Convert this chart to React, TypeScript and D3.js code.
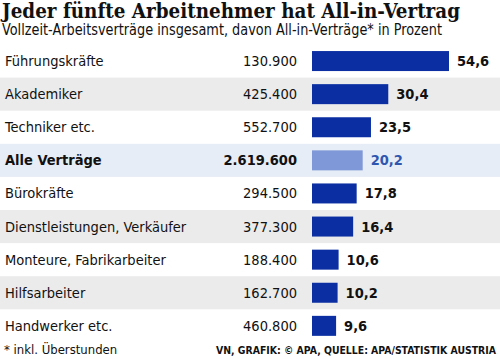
import React from "react";
import * as d3 from "d3";

const categories = [
  "Führungskräfte",
  "Akademiker",
  "Techniker etc.",
  "Alle Verträge",
  "Bürokräfte",
  "Dienstleistungen, Verkäufer",
  "Monteure, Fabrikarbeiter",
  "Hilfsarbeiter",
  "Handwerker etc.",
];
const totals = ["130.900", "425.400", "552.700", "2.619.600", "294.500", "377.300", "188.400", "162.700", "460.800"];
const percents = [54.6, 30.4, 23.5, 20.2, 17.8, 16.4, 10.6, 10.2, 9.6];
const highlightIndex = 3;

const W = 500;
const H = 359;
const font = "'DejaVu Sans Condensed', 'DejaVu Sans', sans-serif";

export default function App() {
  const y = d3.scaleBand<number>().domain(d3.range(categories.length)).range([44.5, 342.4]).paddingInner(0).paddingOuter(0);
  const x = d3.scaleLinear().domain([0, 54.6]).range([312, 449]);
  const bh = 20;
  const fmt = (v: number) => v.toFixed(1).replace(".", ",");

  return (
    <svg width={W} height={H} style={{ position: "absolute", left: 0, top: 0, background: "#fff" }}>
      <rect x={0} y={0} width={W} height={H} fill="#fff" />
      <text x={2} y={18} fontFamily="'DejaVu Serif Condensed', 'DejaVu Serif', serif" fontWeight="bold" fontSize={21} textLength={458} lengthAdjust="spacingAndGlyphs" fill="#111">
        Jeder fünfte Arbeitnehmer hat All-in-Vertrag
      </text>
      <text x={2} y={35} fontFamily={font} fontSize={15} textLength={440} lengthAdjust="spacingAndGlyphs" fill="#111">
        Vollzeit-Arbeitsverträge insgesamt, davon All-in-Verträge* in Prozent
      </text>
      {categories.map((c, i) => {
        const top = y(i)!;
        const bw = y.bandwidth();
        const cy = top + bw / 2;
        const hl = i === highlightIndex;
        const shade = hl ? "#e7edf6" : i % 2 === 1 ? "#ebebeb" : "none";
        return (
          <g key={c}>
            {shade !== "none" && <rect x={0} y={top} width={W} height={bw} fill={shade} />}
            <text x={5} y={cy + 5} fontFamily={font} fontSize={14.5} fontWeight={hl ? "bold" : "normal"} fill="#111">
              {c}
            </text>
            <text x={297} y={cy + 5} textAnchor="end" fontFamily={font} fontSize={14.5} fontWeight={hl ? "bold" : "normal"} fill="#111">
              {totals[i]}
            </text>
            <rect x={x(0)} y={cy - bh / 2} width={x(percents[i]) - x(0)} height={bh} fill={hl ? "#7f98d8" : "#0b2fa3"} />
            <text x={x(percents[i]) + 8} y={cy + 5} fontFamily={font} fontSize={14.5} fontWeight="bold" fill={hl ? "#2f57b0" : "#111"}>
              {fmt(percents[i])}
            </text>
          </g>
        );
      })}
      <text x={4} y={354} fontFamily={font} fontSize={13} fill="#111">
        * inkl. Überstunden
      </text>
      <text x={496} y={354} textAnchor="end" fontFamily={font} fontSize={11} fontWeight="bold" fill="#111" textLength={280} lengthAdjust="spacingAndGlyphs">
        VN, GRAFIK: © APA, QUELLE: APA/STATISTIK AUSTRIA
      </text>
    </svg>
  );
}
